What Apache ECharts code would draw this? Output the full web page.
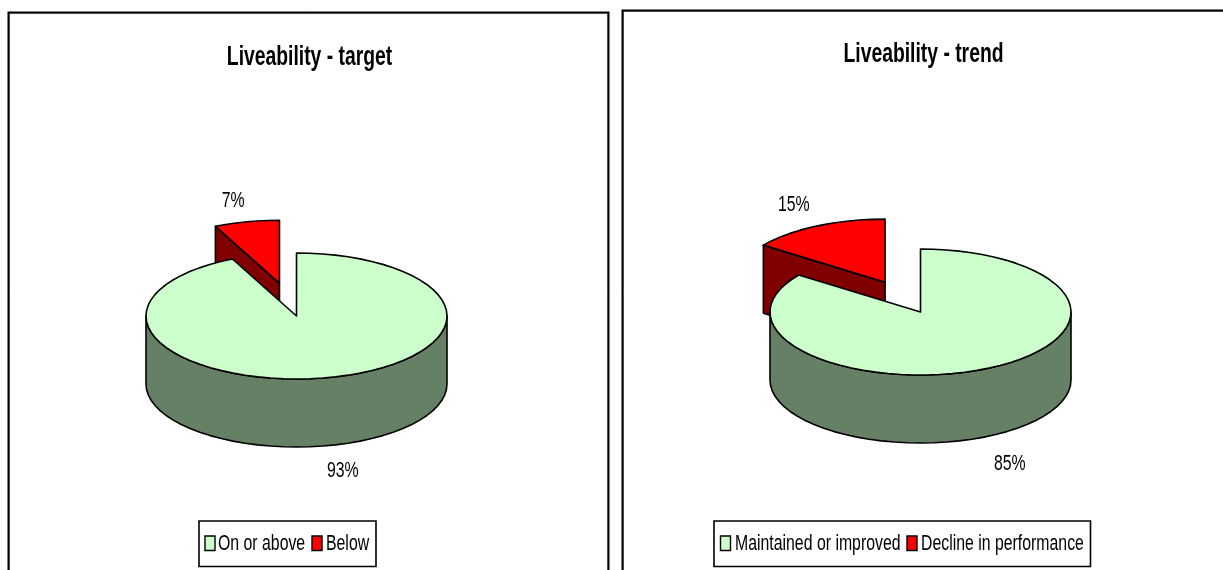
<!DOCTYPE html>
<html><head><meta charset="utf-8">
<style>html,body{margin:0;padding:0;background:#fff}#c{width:1223px;height:570px}</style>
<script src="https://cdn.jsdelivr.net/npm/echarts@6/dist/echarts.min.js"></script></head>
<body><div id="c"></div>
<script>
const titles = ['Liveability - target', 'Liveability - trend'];
const targetCategories = ['On or above', 'Below'];
const targetValues = [93, 7];
const trendCategories = ['Maintained or improved', 'Decline in performance'];
const trendValues = [85, 15];

const FONT = '"Liberation Sans",Arial,sans-serif';
const TEXT_SQUEEZE = 0.72;
const TOP_COLORS = ['#CCFFCC', '#FF0000'];
const WALL_COLORS = ['#668066', '#800000'];
const RX = 150.5, RY = 63, DEPTH = 68;
const CENTERS = [[296.5, 316], [920.5, 312]];
const LABEL_NUDGE = [[[1, 2], [-1, 2]], [[-5, 6], [3, 0]]];
const TITLE_POS = [[309.5, 57], [923.5, 54]];
const LEGEND_BOX = [[199, 521, 177, 45.5], [714, 521, 376.5, 45.5]];
const LEGEND_SWATCH_X = [[205, 312], [720.5, 907]];
const LEGEND_TEXT_X = [[218, 326], [735, 921]];

function pt(c, deg) {
  const a = deg * Math.PI / 180;
  return [c[0] + RX * Math.sin(a), c[1] - RY * Math.cos(a)];
}
function arc(c, a0, a1) {
  const out = [], n = Math.max(2, Math.ceil((a1 - a0) / 5));
  for (let i = 0; i <= n; i++) out.push(pt(c, a0 + (a1 - a0) * i / n));
  return out;
}
function down(p) { return [p[0], p[1] + DEPTH]; }

function sliceSeries(name, values, panel, idx) {
  return {
    type: 'custom', name, coordinateSystem: 'none', silent: true, clip: false,
    itemStyle: { color: TOP_COLORS[idx], borderColor: '#000', borderWidth: 1 },
    data: [[values[idx]]],
    renderItem(params, api) {
      const total = values[0] + values[1];
      const sweep = api.value(0) / total * 360;
      const a0 = idx === 0 ? 0 : values[0] / total * 360;
      const a1 = a0 + sweep;
      const mid = (a0 + a1) / 2 * Math.PI / 180;
      let c = CENTERS[panel];
      if (idx === 1) c = [c[0] + 78 * Math.sin(mid), c[1] - 33.5 * Math.cos(mid)];
      const line = { stroke: '#000', lineWidth: 1.6, lineJoin: 'round' };
      const children = [];
      if (idx === 0) {
        const front = arc(c, Math.max(a0, 90), Math.min(a1, 270));
        children.push({ type: 'polygon', shape: { points: front.concat(front.slice().reverse().map(down)) },
          style: Object.assign({ fill: WALL_COLORS[idx] }, line) });
      } else {
        const outer = pt(c, a0), ap = [c[0], c[1]];
        children.push({ type: 'polygon', shape: { points: [ap, outer, down(outer), down(ap)] },
          style: Object.assign({ fill: WALL_COLORS[idx] }, line) });
      }
      children.push({ type: 'polygon', shape: { points: [[c[0], c[1]]].concat(arc(c, a0, a1)) },
        style: Object.assign({ fill: TOP_COLORS[idx] }, line) });
      const k = 1.38, cos = Math.cos(mid), nudge = LABEL_NUDGE[panel][idx];
      children.push({ type: 'text', z2: 10, scaleX: TEXT_SQUEEZE,
        x: c[0] + RX * k * Math.sin(mid) + nudge[0],
        y: c[1] - RY * k * cos + (cos < 0 ? DEPTH : 0) + nudge[1],
        style: { text: api.value(0) + '%', x: 0, y: 0,
          font: '22px ' + FONT, fill: '#000', align: 'center', verticalAlign: 'middle' } });
      return { type: 'group', children };
    }
  };
}
function titleGraphic(i) {
  return { type: 'text', silent: true, x: TITLE_POS[i][0], y: TITLE_POS[i][1], scaleX: 0.69,
    style: { text: titles[i], x: 0, y: 0, font: 'bold 28px ' + FONT, fill: '#000', align: 'center', verticalAlign: 'middle' } };
}
function legendGraphic(cats, p) {
  const b = LEGEND_BOX[p], els = [
    { type: 'rect', silent: true, shape: { x: b[0], y: b[1], width: b[2], height: b[3] },
      style: { fill: '#fff', stroke: '#000', lineWidth: 1.6 } }
  ];
  cats.forEach((name, i) => {
    els.push({ type: 'rect', silent: true, shape: { x: LEGEND_SWATCH_X[p][i], y: 536, width: 10, height: 14.5 },
      style: { fill: TOP_COLORS[i], stroke: '#000', lineWidth: 1.4 } });
    els.push({ type: 'text', silent: true, x: LEGEND_TEXT_X[p][i], y: 543.5, scaleX: TEXT_SQUEEZE,
      style: { text: name, x: 0, y: 0, font: '22px ' + FONT, fill: '#000', align: 'left', verticalAlign: 'middle' } });
  });
  return els;
}

const chart = echarts.init(document.getElementById('c'), null, { renderer: 'canvas' });
chart.setOption({
  animation: false, backgroundColor: '#fff',
  graphic: [
    { type: 'polyline', silent: true, shape: { points: [[9.5, 575], [9.5, 13.5], [607.5, 13.5], [607.5, 575]] },
      style: { stroke: '#999', lineWidth: 1, fill: null } },
    { type: 'polyline', silent: true, shape: { points: [[623.5, 575], [623.5, 11.5], [1230, 11.5]] },
      style: { stroke: '#999', lineWidth: 1, fill: null } },
    { type: 'polyline', silent: true, shape: { points: [[8.5, 575], [8.5, 12.5], [608.5, 12.5], [608.5, 575]] },
      style: { stroke: '#000', lineWidth: 2, fill: null } },
    { type: 'polyline', silent: true, shape: { points: [[622.5, 575], [622.5, 10.5], [1230, 10.5]] },
      style: { stroke: '#000', lineWidth: 2, fill: null } },
    titleGraphic(0), titleGraphic(1)
  ].concat(legendGraphic(targetCategories, 0), legendGraphic(trendCategories, 1)),
  series: [
    sliceSeries(targetCategories[1], targetValues, 0, 1),
    sliceSeries(targetCategories[0], targetValues, 0, 0),
    sliceSeries(trendCategories[1], trendValues, 1, 1),
    sliceSeries(trendCategories[0], trendValues, 1, 0)
  ]
});
</script></body></html>
